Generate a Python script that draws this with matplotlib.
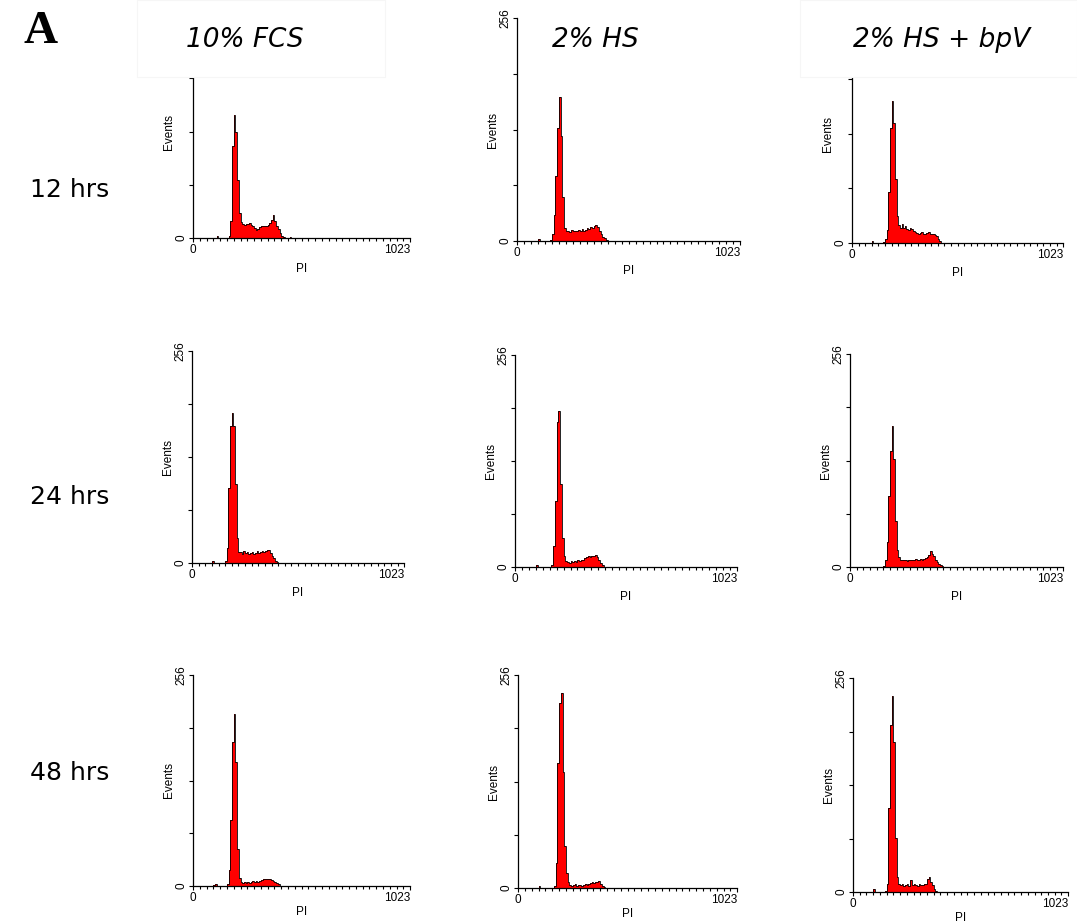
import numpy as np
import matplotlib.pyplot as plt
from matplotlib.patches import Rectangle
from matplotlib.ticker import MultipleLocator

# === DATA: PI histograms, counts per 8-channel bin starting at channel 96 ===
BIN_START = 96
BIN_WIDTH = 8
CONDITIONS = ["10% FCS", "2% HS", "2% HS + bpV"]
TIMEPOINTS = ["12 hrs", "24 hrs", "48 hrs"]

fcs10_12h = [0, 0, 3, 0, 0, 0, 0, 0, 0, 2, 20, 110, 148, 128, 70, 30, 19, 17, 16, 17,
             17, 18, 16, 14, 12, 10, 11, 13, 14, 14, 15, 15, 16, 18, 22, 28, 20, 15, 11, 6,
             3, 1, 0, 0, 0, 1, 0, 0]
hs2_12h = [2, 0, 0, 0, 0, 0, 0, 1, 8, 30, 75, 130, 165, 120, 50, 15, 11, 12, 10, 13,
           11, 12, 11, 13, 12, 14, 12, 13, 15, 14, 16, 15, 17, 18, 16, 12, 8, 5, 3, 1,
           0, 0, 0, 0, 0, 0, 0, 0]
hsbpv_12h = [2, 0, 0, 0, 0, 0, 0, 1, 5, 15, 60, 135, 166, 140, 75, 32, 21, 18, 22, 17,
             20, 16, 15, 18, 16, 14, 13, 12, 11, 12, 13, 11, 10, 12, 13, 11, 10, 11, 9, 8,
             5, 2, 0, 0, 0, 0, 0, 0]

fcs10_24h = [3, 0, 0, 0, 0, 0, 0, 0, 2, 18, 90, 165, 181, 165, 95, 30, 13, 13, 11, 14,
             12, 13, 11, 12, 13, 11, 12, 14, 12, 13, 14, 13, 15, 16, 16, 12, 9, 6, 3, 1,
             0, 0, 0, 0, 0, 0, 0, 0]
hs2_24h = [3, 0, 0, 0, 0, 0, 0, 0, 0, 3, 25, 80, 175, 188, 100, 35, 13, 7, 6, 5,
           7, 6, 7, 6, 8, 7, 8, 9, 11, 12, 13, 12, 13, 13, 14, 12, 9, 5, 2, 0,
           0, 0, 0, 0, 0, 0, 0, 0]
hsbpv_24h = [0, 0, 0, 0, 0, 0, 0, 0, 1, 8, 30, 85, 140, 170, 130, 55, 20, 12, 9, 8,
             9, 8, 7, 9, 8, 9, 8, 10, 9, 8, 10, 9, 10, 11, 12, 15, 19, 16, 13, 9,
             6, 4, 2, 1, 0, 0, 0, 0]

fcs10_48h = [1, 3, 0, 0, 0, 0, 0, 0, 2, 20, 80, 175, 209, 150, 45, 10, 5, 4, 5, 4,
             5, 4, 5, 6, 5, 6, 5, 6, 7, 8, 9, 8, 9, 8, 7, 6, 5, 4, 2, 0,
             0, 0, 0, 0, 0, 0, 0, 0]
hs2_48h = [2, 0, 0, 0, 0, 0, 0, 0, 0, 2, 30, 150, 222, 234, 140, 50, 18, 7, 4, 3,
           4, 5, 3, 4, 4, 3, 4, 5, 4, 5, 6, 7, 6, 7, 7, 8, 5, 3, 1, 0,
           0, 0, 0, 0, 0, 0, 0, 0]
hsbpv_48h = [3, 0, 0, 0, 0, 0, 0, 1, 10, 100, 200, 234, 180, 65, 18, 10, 8, 9, 7, 8,
             9, 7, 14, 8, 9, 8, 7, 9, 8, 8, 9, 10, 15, 18, 12, 8, 4, 1, 0, 0,
             0, 0, 0, 0, 0, 0, 0, 0]

HISTS = [[fcs10_12h, hs2_12h, hsbpv_12h],
         [fcs10_24h, hs2_24h, hsbpv_24h],
         [fcs10_48h, hs2_48h, hsbpv_48h]]

# === LAYOUT (pixels: left, top, right, bottom) ===
W, H = 1077, 923
PANEL_BOXES = [[(193, 25, 410, 238), (517, 18, 740, 241), (852, 24, 1063, 243)],
               [(192, 351, 404, 563), (515, 355, 737, 567), (850, 354, 1063, 567)],
               [(193, 675, 410, 886), (518, 675, 737, 888), (853, 678, 1068, 892)]]
XLABEL_PAD = [5, 5, 2]

plt.rcParams['font.family'] = ['Liberation Sans', 'DejaVu Sans']
fig = plt.figure(figsize=(W / 100, H / 100), dpi=100)


def px_axes(box):
    x0, y0, x1, y1 = box
    return fig.add_axes([x0 / W, 1 - y1 / H, (x1 - x0) / W, (y1 - y0) / H])


def draw_hist(ax, counts, xpad):
    edges = BIN_START + BIN_WIDTH * np.arange(len(counts) + 1)
    ax.stairs(counts, edges, fill=True, color='#ff0000', linewidth=0)
    ax.stairs(counts, edges, color='black', linewidth=0.6)
    ax.set_xlim(0, 1023)
    ax.set_ylim(0, 256)
    for side in ('top', 'right'):
        ax.spines[side].set_visible(False)
    for side in ('left', 'bottom'):
        ax.spines[side].set_linewidth(0.9)
    ax.set_xticks([0, 1023])
    labels = ax.set_xticklabels(['0', '1023'])
    labels[1].set_horizontalalignment('right')
    ax.xaxis.set_minor_locator(MultipleLocator(32))
    ax.tick_params(axis='x', which='major', length=3, width=0.8, labelsize=8.5, pad=1)
    ax.tick_params(axis='x', which='minor', length=2.5, width=0.8)
    ax.set_yticks([0, 64, 128, 192, 256])
    ax.set_yticklabels(['0', '', '', '', '256'], rotation=90, va='center')
    ax.tick_params(axis='y', length=3, width=0.8, labelsize=8.5, pad=1)
    ax.set_xlabel('PI', fontsize=8.5, labelpad=xpad)
    ax.set_ylabel('Events', fontsize=8.5, labelpad=0)


for r in range(3):
    for c in range(3):
        ax = px_axes(PANEL_BOXES[r][c])
        draw_hist(ax, HISTS[r][c], XLABEL_PAD[r])

# header boxes sit over the top of the first and last panel in row one
for x0, x1 in [(137, 385), (800, 1077)]:
    fig.add_artist(Rectangle((x0 / W, 1 - 77 / H), (x1 - x0) / W, 77 / H,
                             transform=fig.transFigure, facecolor='white',
                             edgecolor='#f6f6f6', linewidth=0.8, zorder=5))

header_x = [245, 595, 942]
for name, x in zip(CONDITIONS, header_x):
    fig.text(x / W, 1 - 40 / H, name, fontsize=19, style='italic',
             family=['DejaVu Sans'], ha='center', va='center', zorder=6)

row_y = [190, 497, 773]
for name, y in zip(TIMEPOINTS, row_y):
    fig.text(70 / W, 1 - y / H, name, fontsize=18, family=['DejaVu Sans'],
             ha='center', va='center', zorder=6)

fig.text(41 / W, 1 - 32 / H, 'A', fontsize=34, fontweight='bold',
         family=['Liberation Serif'], ha='center', va='center', zorder=6)

plt.savefig('out.png', dpi=100)
